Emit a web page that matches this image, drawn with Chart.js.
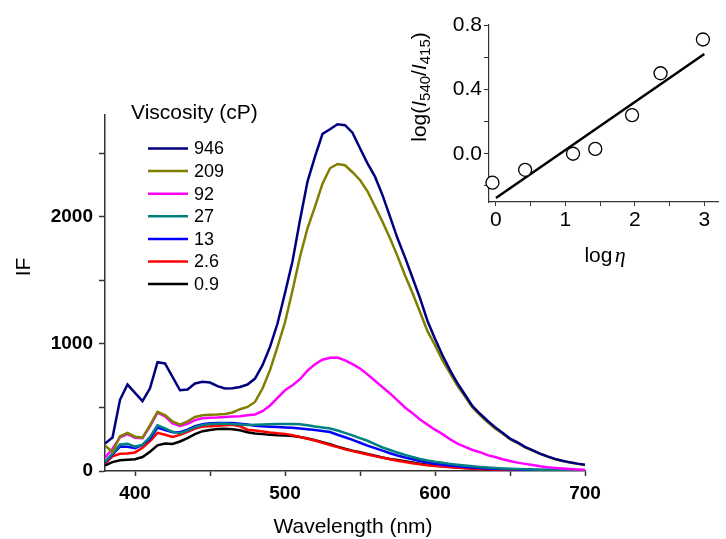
<!DOCTYPE html>
<html>
<head>
<meta charset="utf-8">
<script src="https://cdn.jsdelivr.net/npm/chart.js@4.4.0/dist/chart.umd.min.js"></script>
<style>
  body { margin: 0; background: #fff; }
  #wrap { position: relative; width: 726px; height: 539px; }
  #spectra { position: absolute; left: 0; top: 0; }
  #inset { position: absolute; left: 400px; top: 0; }
</style>
</head>
<body>
<div id="wrap">
  <canvas id="spectra" width="726" height="539" style="width:726px;height:539px"></canvas>
  <canvas id="inset" width="326" height="280" style="width:326px;height:280px"></canvas>
</div>
<script>
const wavelengths = [380, 385, 390, 395, 400, 405, 410, 415, 420, 425, 430, 435, 440, 445, 450, 455,
  460, 465, 470, 475, 480, 485, 490, 495, 500, 505, 510, 515, 520, 525, 530, 535, 540, 545, 550,
  555, 560, 565, 570, 575, 580, 585, 590, 595, 600, 605, 610, 615, 620, 625, 630, 635, 640, 645,
  650, 655, 660, 665, 670, 675, 680, 685, 690, 695, 700];

const if946 = [216, 263, 560, 680, 615, 550, 650, 856, 846, 740, 635, 641, 688, 701, 696, 667,
  649, 651, 661, 680, 727, 832, 976, 1160, 1400, 1650, 1974, 2276, 2472, 2651, 2688, 2727, 2720,
  2661, 2539, 2420, 2315, 2170, 2000, 1830, 1680, 1520, 1360, 1180, 1040, 910, 793, 690, 600, 510,
  450, 395, 345, 300, 255, 225, 190, 165, 137, 115, 95, 80, 68, 58, 50];
const if209 = [200, 150, 273, 300, 270, 263, 360, 465, 440, 390, 365, 391, 425, 439, 442, 444,
  449, 460, 486, 504, 543, 649, 793, 976, 1170, 1420, 1685, 1909, 2080, 2260, 2381, 2415, 2405,
  2350, 2289, 2200, 2080, 1960, 1830, 1690, 1540, 1400, 1250, 1100, 990, 870, 770, 670, 585, 500,
  440, 385, 335, 295, 250, 220, 185, 160, 135, 113, 93, 78, 66, 56, 48];
const if92 = [105, 175, 265, 290, 262, 258, 352, 460, 430, 375, 355, 372, 400, 415, 418, 420,
  424, 428, 430, 438, 445, 470, 515, 575, 635, 675, 722, 790, 840, 875, 890, 893, 870, 840, 806,
  760, 710, 660, 610, 555, 500, 455, 405, 365, 325, 290, 250, 215, 190, 165, 148, 125, 110, 92, 78,
  66, 56, 47, 38, 30, 24, 19, 15, 12, 10];
const if27 = [72, 137, 208, 215, 192, 205, 268, 360, 335, 308, 298, 318, 345, 362, 370, 372,
  373, 370, 366, 362, 364, 366, 368, 370, 370, 369, 368, 360, 350, 342, 334, 318, 300, 280, 258,
  238, 212, 185, 165, 145, 127, 110, 95, 82, 72, 64, 56, 49, 43, 37, 32, 27, 23, 20, 17, 15, 13,
  11, 10, 9, 8, 7, 6, 6, 5];
const if13 = [65, 130, 192, 190, 180, 205, 255, 342, 322, 305, 305, 325, 352, 368, 375, 378,
  378, 378, 372, 365, 355, 352, 349, 346, 343, 340, 334, 328, 322, 315, 307, 285, 265, 245, 222,
  200, 180, 160, 140, 122, 106, 92, 79, 67, 57, 49, 43, 37, 32, 27, 23, 20, 17, 15, 13, 11, 10, 9,
  8, 7, 6, 5, 5, 4, 4];
const if2p6 = [58, 115, 135, 138, 146, 182, 235, 300, 285, 268, 284, 307, 334, 350, 352, 356,
  360, 364, 352, 325, 318, 310, 302, 296, 292, 282, 268, 254, 240, 222, 205, 188, 170, 157, 143,
  130, 117, 104, 92, 81, 70, 61, 53, 46, 40, 35, 30, 26, 22, 19, 16, 14, 12, 10, 9, 8, 7, 6, 5, 5,
  4, 4, 3, 3, 3];
const if0p9 = [45, 70, 84, 88, 93, 110, 152, 202, 216, 212, 232, 258, 290, 313, 322, 331, 333,
  328, 320, 305, 295, 290, 285, 281, 280, 275, 268, 256, 242, 226, 210, 192, 175, 160, 147, 134,
  120, 106, 95, 86, 76, 67, 58, 50, 44, 38, 33, 28, 24, 20, 17, 15, 13, 11, 9, 8, 7, 6, 5, 5, 4,
  4, 3, 3, 3];

const viscosityLabels = ['946', '209', '92', '27', '13', '2.6', '0.9'];
const lineColors = ['#00007f', '#808000', '#ff00ff', '#008080', '#0000ff', '#ff0000', '#000000'];
const xTicks = [400, 450, 500, 550, 600, 650, 700];
const yTicks = [0, 500, 1000, 1500, 2000, 2500];

// inset: log(I540/I415) vs log(viscosity)
const logEta = [-0.05, 0.42, 1.11, 1.43, 1.96, 2.37, 2.98];
const logRatio = [-0.18, -0.10, 0.00, 0.03, 0.24, 0.50, 0.71];
const fitX = [0, 3];
const fitY = [-0.275, 0.62];
const insetXTicks = [0, 0.5, 1, 1.5, 2, 2.5, 3];
const insetYTicks = [-0.2, 0, 0.2, 0.4, 0.6, 0.8];

const FONT = '"Liberation Sans", Arial, sans-serif';
const allSeries = [if946, if209, if92, if27, if13, if2p6, if0p9];

const spectraDecor = {
  id: 'spectraDecor',
  afterDraw(chart) {
    const ctx = chart.ctx;
    ctx.save();
    ctx.fillStyle = '#000';
    ctx.textBaseline = 'middle';
    ctx.textAlign = 'center';
    ctx.font = '21px ' + FONT;
    ctx.fillText('Wavelength (nm)', 353, 527);
    ctx.save();
    ctx.translate(24, 267);
    ctx.rotate(-Math.PI / 2);
    ctx.fillText('IF', 0, 0);
    ctx.restore();

    // legend
    ctx.textAlign = 'left';
    ctx.font = '21px ' + FONT;
    ctx.fillText('Viscosity (cP)', 131, 113);
    ctx.font = '18px ' + FONT;
    chart.data.datasets.forEach((ds, i) => {
      const y = 148.5 + i * 22.6;
      ctx.strokeStyle = ds.borderColor;
      ctx.lineWidth = 2.5;
      ctx.beginPath();
      ctx.moveTo(148, y);
      ctx.lineTo(188, y);
      ctx.stroke();
      ctx.fillText(ds.label, 194, y + 1);
    });
    ctx.restore();
  }
};

new Chart(document.getElementById('spectra'), {
  type: 'line',
  data: {
    datasets: allSeries.map((vals, i) => ({
      label: viscosityLabels[i],
      data: wavelengths.map((w, j) => ({ x: w, y: vals[j] })),
      borderColor: lineColors[i],
      borderWidth: 2.5,
      pointRadius: 0,
      fill: false,
      tension: 0
    }))
  },
  options: {
    responsive: false,
    animation: false,
    devicePixelRatio: 1,
    layout: { padding: { left: 0, top: 115, right: 141, bottom: 0 } },
    plugins: { legend: { display: false }, tooltip: { enabled: false } },
    scales: {
      x: {
        type: 'linear', min: 380, max: 700,
        afterBuildTicks: s => { s.ticks = xTicks.map(v => ({ value: v })); },
        afterFit: s => { s.height = 68; },
        ticks: {
          callback: v => (v % 100 === 0 ? String(v) : ''),
          font: { family: FONT, size: 19, weight: 'bold' },
          color: '#000', padding: 6, maxRotation: 0, autoSkip: false
        },
        grid: { drawOnChartArea: false, tickLength: 5, tickColor: '#333', tickWidth: 1.5 },
        border: { color: '#333', width: 1.5 }
      },
      y: {
        type: 'linear', min: 0, max: 2800,
        afterBuildTicks: s => { s.ticks = yTicks.map(v => ({ value: v })); },
        afterFit: s => { s.width = 105; },
        ticks: {
          callback: v => (v % 1000 === 0 ? String(v) : ''),
          font: { family: FONT, size: 19, weight: 'bold' },
          color: '#000', padding: 6, autoSkip: false
        },
        grid: { drawOnChartArea: false, tickLength: 6, tickColor: '#333', tickWidth: 1.5 },
        border: { color: '#333', width: 1.5 }
      }
    }
  },
  plugins: [spectraDecor]
});

function drawRuns(ctx, runs) {
  let total = 0;
  runs.forEach(r => { ctx.font = r.font; r.w = ctx.measureText(r.text).width; total += r.w; });
  let x = -total / 2;
  runs.forEach(r => { ctx.font = r.font; ctx.fillText(r.text, x, 7.5 + (r.dy || 0)); x += r.w; });
}

const insetDecor = {
  id: 'insetDecor',
  afterDraw(chart) {
    const ctx = chart.ctx;
    ctx.save();
    ctx.fillStyle = '#000';
    ctx.textAlign = 'left';
    ctx.textBaseline = 'alphabetic';
    const reg = '21px ' + FONT;
    const ital = 'italic 21px ' + FONT;
    const sub = '15px ' + FONT;
    ctx.save();
    ctx.translate(205, 254);
    drawRuns(ctx, [
      { text: 'log', font: reg },
      { text: ' ', font: '8px ' + FONT },
      { text: '\u03B7', font: 'italic 22px "Liberation Serif", "DejaVu Serif", serif' }
    ]);
    ctx.restore();
    ctx.save();
    ctx.translate(18, 87);
    ctx.rotate(-Math.PI / 2);
    drawRuns(ctx, [
      { text: 'log(', font: reg },
      { text: 'I', font: ital },
      { text: '540', font: sub, dy: 4 },
      { text: '/', font: reg },
      { text: 'I', font: ital },
      { text: '415', font: sub, dy: 4 },
      { text: ')', font: reg }
    ]);
    ctx.restore();
    ctx.restore();
  }
};

new Chart(document.getElementById('inset'), {
  type: 'scatter',
  data: {
    datasets: [
      {
        data: logEta.map((x, i) => ({ x: x, y: logRatio[i] })),
        pointStyle: 'circle', pointRadius: 6.5,
        pointBorderColor: '#000', pointBackgroundColor: '#fff', pointBorderWidth: 1.3,
        showLine: false, clip: false
      },
      {
        data: fitX.map((x, i) => ({ x: x, y: fitY[i] })),
        showLine: true, borderColor: '#000', borderWidth: 2.5, pointRadius: 0
      }
    ]
  },
  options: {
    responsive: false,
    animation: false,
    devicePixelRatio: 1,
    layout: { padding: { left: 0, top: 25, right: 0, bottom: 0 } },
    plugins: { legend: { display: false }, tooltip: { enabled: false } },
    scales: {
      x: {
        type: 'linear', min: -0.1, max: 3.2,
        afterBuildTicks: s => { s.ticks = insetXTicks.map(v => ({ value: v })); },
        afterFit: s => { s.height = 78; },
        ticks: {
          callback: v => (Number.isInteger(v) ? String(v) : ''),
          font: { family: FONT, size: 21 }, color: '#000', padding: 2, maxRotation: 0, autoSkip: false
        },
        grid: { drawOnChartArea: false, tickLength: 4, tickColor: '#333', tickWidth: 1 },
        border: { color: '#333', width: 1.2 }
      },
      y: {
        type: 'linear', min: -0.3, max: 0.8,
        afterBuildTicks: s => { s.ticks = insetYTicks.map(v => ({ value: v })); },
        afterFit: s => { s.width = 89; },
        ticks: {
          callback: v => (Math.round(v * 10) % 4 === 0 ? v.toFixed(1) : ''),
          font: { family: FONT, size: 21 }, color: '#000', padding: 2, autoSkip: false
        },
        grid: { drawOnChartArea: false, tickLength: 5, tickColor: '#333', tickWidth: 1 },
        border: { color: '#333', width: 1.2 }
      }
    }
  },
  plugins: [insetDecor]
});
</script>
</body>
</html>
